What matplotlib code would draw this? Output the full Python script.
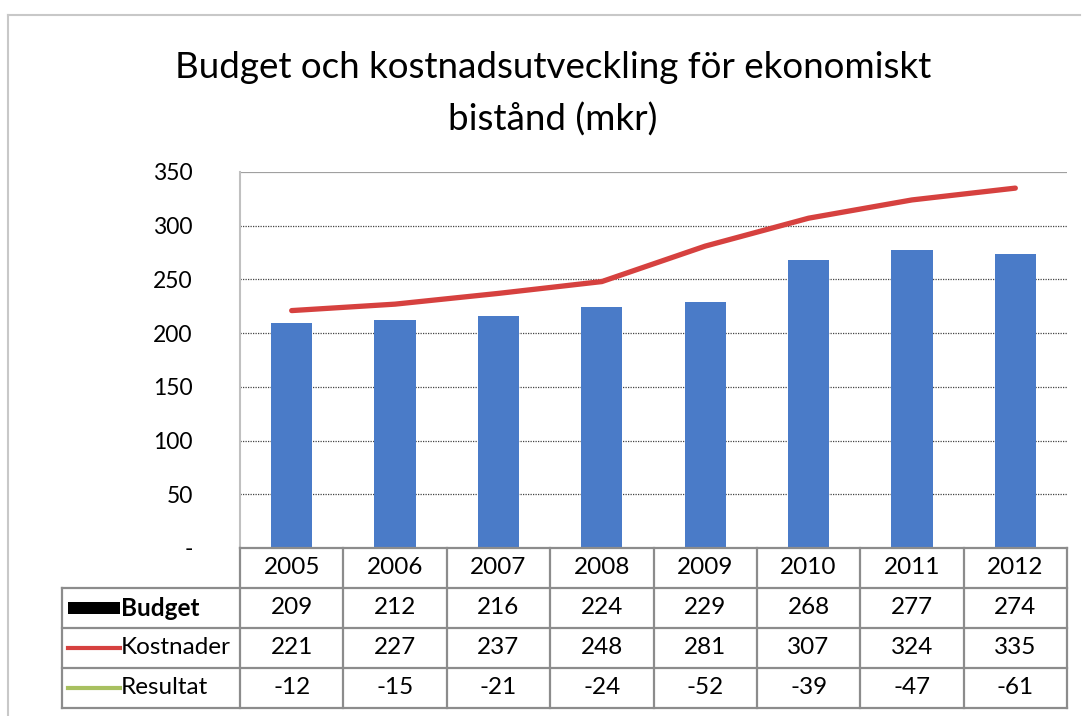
import numpy as np
import matplotlib
matplotlib.use('Agg')
import matplotlib.pyplot as plt
from matplotlib.lines import Line2D
from matplotlib.patches import Rectangle

plt.rcParams['font.family'] = ['Lato', 'DejaVu Sans']

# 数据
years = ['2005', '2006', '2007', '2008', '2009', '2010', '2011', '2012']
budget = [209, 212, 216, 224, 229, 268, 277, 274]
kostnader = [221, 227, 237, 248, 281, 307, 324, 335]
resultat = [-12, -15, -21, -24, -52, -39, -47, -61]
row_labels = ['Budget', 'Kostnader', 'Resultat']
yticks = [0, 50, 100, 150, 200, 250, 300, 350]
ytick_labels = ['-', '50', '100', '150', '200', '250', '300', '350']

bar_color = '#4a7bc8'
line_color = '#d6413f'
res_color = '#a8c060'

W, H = 1083, 716
fig = plt.figure(figsize=(W / 100, H / 100), dpi=100)


def fx(px):
    return px / W


def fy(py):
    return 1 - py / H


# 外框
fig.add_artist(Line2D([fx(8), fx(8)], [fy(15), fy(716)], color='#c8c8c8', lw=1.5))
fig.add_artist(Line2D([fx(8), fx(1080)], [fy(15), fy(15)], color='#c8c8c8', lw=1.5))

# 标题
fig.text(fx(553), fy(68), 'Budget och kostnadsutveckling för ekonomiskt',
         ha='center', va='center', fontsize=26.5)
fig.text(fx(553), fy(120), 'bistånd (mkr)', ha='center', va='center', fontsize=26.5)

# 主图
x = np.arange(len(years))
ax = fig.add_axes([fx(240), fy(548), fx(1067) - fx(240), fy(172) - fy(548)])
ax.set_xlim(-0.5, len(years) - 0.5)
ax.set_ylim(0, 350)
for v in yticks[1:-1]:
    ax.axhline(v, color='#444444', lw=0.9, ls=(0, (1, 1)), zorder=1)
ax.axhline(350, color='#a0a0a0', lw=1.6, zorder=1)
ax.bar(x, budget, width=0.4, color=bar_color, zorder=2)
ax.plot(x, kostnader, color=line_color, lw=3.8, solid_capstyle='round', zorder=3)
ax.set_yticks(yticks)
ax.set_yticklabels(ytick_labels, fontsize=16.5)
ax.tick_params(axis='y', length=0, pad=34)
ax.set_xticks([])
for s in ['top', 'right', 'bottom']:
    ax.spines[s].set_visible(False)
ax.spines['left'].set_color('#c0c0c0')
ax.spines['left'].set_linewidth(1.5)

# 数据表
lab_w = 178 / ((1067 - 240) / len(years))
tx = fig.add_axes([fx(62), fy(708), fx(1067) - fx(62), fy(548) - fy(708)])
tx.set_xlim(-0.5 - lab_w, len(years) - 0.5)
tx.set_ylim(4, 0)
tx.axis('off')
lc = '#8c8c8c'
lw = 1.6
x0 = -0.5 - lab_w
x1 = len(years) - 0.5
# 横线
tx.plot([-0.5, x1], [0, 0], color=lc, lw=lw, clip_on=False)
for r in [1, 2, 3, 4]:
    tx.plot([x0, x1], [r, r], color=lc, lw=lw, clip_on=False)
# 竖线
tx.plot([x0, x0], [1, 4], color=lc, lw=lw, clip_on=False)
for c in range(len(years) + 1):
    tx.plot([c - 0.5, c - 0.5], [0, 4], color=lc, lw=lw, clip_on=False)

for i, yr in enumerate(years):
    tx.text(i, 0.5, yr, ha='center', va='center', fontsize=17.5)
for r, vals in enumerate([budget, kostnader, resultat]):
    for i, v in enumerate(vals):
        tx.text(i, r + 1.5, str(v), ha='center', va='center', fontsize=17.5)

# 图例键
kx0 = x0 + 6 / 103.4
kx1 = x0 + 58 / 103.4
tx.add_patch(Rectangle((kx0, 1.36), kx1 - kx0, 0.3, color='black', lw=0))
tx.plot([kx0, kx1], [2.5, 2.5], color=line_color, lw=3)
tx.plot([kx0, kx1], [3.5, 3.5], color=res_color, lw=3)
for r, lab in enumerate(row_labels):
    tx.text(kx1 + 0.01, r + 1.5, lab, ha='left', va='center', fontsize=17.5,
            fontweight='bold' if lab == 'Budget' else 'normal')

fig.savefig('out.png', dpi=100)
